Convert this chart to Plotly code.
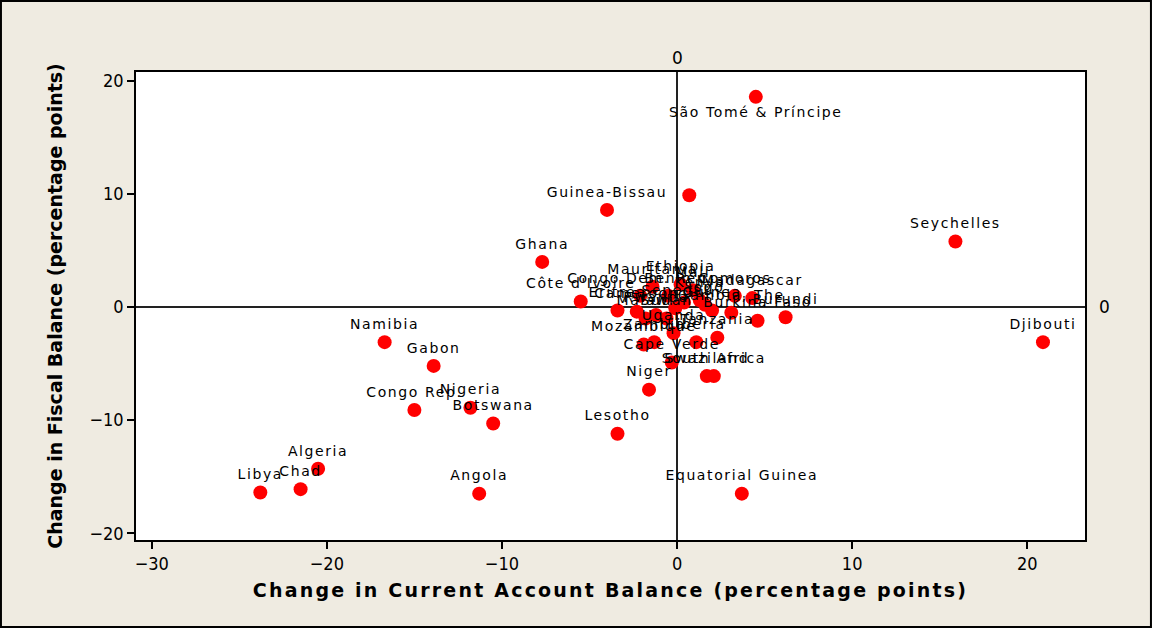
import plotly.graph_objects as go

countries = [
    "São Tomé & Príncipe", "", "Guinea-Bissau", "Seychelles", "Ghana", "Côte d'Ivoire",
    "Djibouti", "Namibia", "Gabon", "Congo Rep.", "Nigeria", "Botswana", "Algeria",
    "Chad", "Libya", "Angola", "Lesotho", "Equatorial Guinea", "Niger", "Swaziland",
    "South Africa", "Cape Verde", "Mozambique", "Zambia", "Uganda", "Liberia",
    "Tanzania", "Gambia, The", "Burkina Faso", "Burundi", "Madagascar", "Comoros",
    "Togo", "Mauritania", "Ethiopia", "Congo Dem. Rep.", "Eritrea", "Cameroon",
    "Rwanda", "Benin", "", "Senegal", "Mali", "Kenya", "Guinea", "Sudan", "Malawi",
]
ca_change = [
    4.5, 0.7, -4.0, 15.9, -7.7, -5.5,
    20.9, -16.7, -13.9, -15.0, -11.8, -10.5, -20.5,
    -21.5, -23.8, -11.3, -3.4, 3.7, -1.6, 1.7,
    2.1, -0.3, -1.9, -1.3, -0.2, 1.1,
    2.3, 3.1, 4.6, 6.2, 4.3, 3.3,
    1.6, -1.4, 0.2, -2.1, -3.4, -2.3,
    -1.2, -0.5, 0.4, -0.1, 0.9, 1.3, 2.0, -0.6, -1.8,
]
fiscal_change = [
    18.6, 9.9, 8.6, 5.8, 4.0, 0.5,
    -3.1, -3.1, -5.2, -9.1, -8.9, -10.3, -14.3,
    -16.1, -16.4, -16.5, -11.2, -16.5, -7.3, -6.1,
    -6.1, -4.9, -3.3, -3.1, -2.3, -3.1,
    -2.7, -0.5, -1.2, -0.9, 0.8, 1.0,
    0.2, 1.8, 2.0, 1.0, -0.3, -0.4,
    -0.7, 1.0, 0.4, -0.1, 1.5, 0.6, -0.3, -1.0, -1.0,
]
label_pos = ["bottom center"] + ["top center"] * (len(countries) - 1)

x_ticks = [-30, -20, -10, 0, 10, 20]
y_ticks = [-20, -10, 0, 10, 20]

bg = "#EFEBE1"
fig = go.Figure()
fig.add_trace(go.Scatter(
    x=ca_change, y=fiscal_change, mode="markers+text",
    text=countries, textposition=label_pos,
    textfont=dict(family="DejaVu Sans", size=14, color="black"),
    marker=dict(color="#FF0000", size=14, line=dict(width=0)),
    cliponaxis=False, hoverinfo="skip",
))

axis_common = dict(
    showgrid=False, showline=True, linecolor="black", linewidth=1.5, mirror=True,
    ticks="outside", ticklen=7, tickcolor="black", tickwidth=1.5,
    zeroline=True, zerolinecolor="#222222", zerolinewidth=1.5,
    tickfont=dict(family="DejaVu Sans Condensed, DejaVu Sans", size=18, color="black"),
)
fig.update_xaxes(range=[-30.9, 23.3], tickvals=x_ticks, **axis_common,
                 title=dict(text="Change in Current Account Balance (percentage points)",
                            font=dict(family="DejaVu Sans", size=19, color="black", weight="bold"),
                            standoff=10))
fig.update_yaxes(range=[-20.6, 20.8], tickvals=y_ticks, **axis_common,
                 title=dict(text="Change in Fiscal Balance (percentage points)",
                            font=dict(family="DejaVu Sans", size=19, color="black", weight="bold"),
                            standoff=22))

fig.add_annotation(x=0, y=1, xref="x", yref="paper", text="0", showarrow=False,
                   yanchor="bottom", yshift=2, font=dict(family="DejaVu Sans", size=17, color="black"))
fig.add_annotation(x=1, y=0, xref="paper", yref="y", text="0", showarrow=False,
                   xanchor="left", xshift=12, font=dict(family="DejaVu Sans", size=17, color="black"))

fig.add_shape(type="rect", xref="paper", yref="paper",
              x0=-0.1423, x1=1.0695, y0=-0.1859, y1=1.1517,
              line=dict(color="black", width=2), layer="below")

fig.update_layout(
    width=1152, height=628, autosize=False,
    paper_bgcolor=bg, plot_bgcolor="white",
    margin=dict(l=136, r=67, t=72, b=88),
    showlegend=False,
)

post = """
document.body.style.margin='0';
document.querySelectorAll('.textpoint text').forEach(function(t){t.style.letterSpacing='1.6px';});
document.querySelectorAll('.g-xtitle text').forEach(function(t){t.style.letterSpacing='2.2px';});
"""
fig.write_html("out.html", post_script=post, config={"displayModeBar": False})
